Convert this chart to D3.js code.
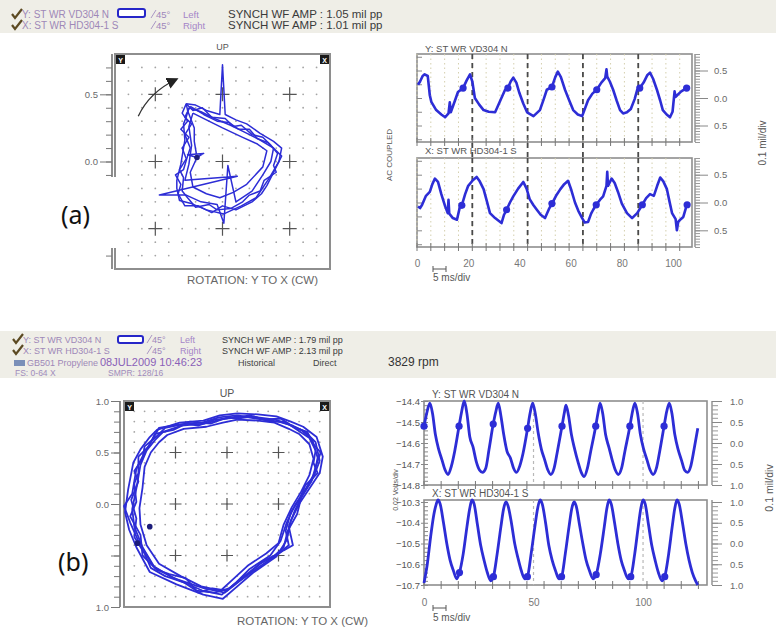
<!DOCTYPE html>
<html>
<head>
<meta charset="utf-8">
<script src="https://cdn.jsdelivr.net/npm/d3@7"></script>
<style>
  body { margin: 0; background: #fff; }
  svg { display: block; font-family: "Liberation Sans", Arial, sans-serif; }
</style>
</head>
<body>
<svg id="chart" width="776" height="633"></svg>
<script>
// ---------------- data ----------------
// (a) synchronous waveforms: [time ms, amplitude mil]
const waveAY = [[0.4,0.24],[1.2,0.30],[2.2,0.40],[3.0,0.43],[4.2,0.40],[5.0,0.05],[5.6,-0.07],[7.5,-0.22],[9.5,-0.30],[11.0,-0.35],[12.3,-0.28],[12.8,-0.08],[13.2,-0.26],[14.8,-0.05],[16.0,0.11],[18.0,0.18],[19.4,0.32],[20.7,0.43],[21.6,0.30],[22.6,0.00],[24.3,-0.12],[26.0,-0.22],[28.0,-0.25],[30.5,-0.26],[32.5,-0.05],[34.4,0.15],[35.5,0.18],[36.6,0.30],[37.6,0.37],[38.8,0.28],[40.0,0.09],[41.5,-0.10],[43.0,-0.26],[45.5,-0.33],[48.0,-0.22],[49.5,-0.02],[50.7,0.15],[52.7,0.20],[54.0,0.38],[55.0,0.48],[56.2,0.38],[57.8,0.15],[59.5,-0.05],[61.0,-0.22],[62.8,-0.30],[64.5,-0.33],[66.8,-0.04],[68.5,0.08],[70.2,0.15],[72.0,0.28],[73.5,0.36],[74.0,0.52],[74.3,0.39],[75.3,0.30],[76.6,0.15],[78.0,-0.05],[79.3,-0.22],[80.5,-0.28],[82.0,-0.26],[83.5,-0.20],[85.0,-0.02],[86.0,0.15],[87.0,0.18],[88.5,0.28],[90.0,0.42],[91.0,0.46],[92.2,0.35],[93.7,0.15],[95.0,-0.05],[96.0,-0.22],[97.5,-0.30],[98.8,-0.35],[99.8,-0.25],[100.6,0.12],[101.0,0.02],[101.6,0.05],[103.2,0.12],[105.3,0.18],[106.6,0.20]];
const dotsAY = [[18.0,0.18],[35.5,0.18],[52.7,0.20],[70.2,0.15],[87.0,0.18],[105.3,0.18]];
const waveAX = [[0.4,-0.07],[1.2,-0.10],[2.0,-0.04],[3.5,0.12],[5.0,0.19],[6.0,0.33],[7.0,0.43],[8.2,0.37],[9.5,0.15],[11.0,-0.07],[12.0,-0.19],[12.3,0.05],[12.6,-0.20],[14.0,-0.28],[15.6,-0.31],[16.8,-0.07],[17.5,-0.05],[18.8,0.15],[20.0,0.30],[21.8,0.40],[23.3,0.46],[24.5,0.38],[26.0,0.24],[27.3,0.02],[28.5,-0.19],[30.5,-0.28],[33.0,-0.37],[34.0,-0.22],[35.0,-0.13],[36.3,0.00],[37.6,0.11],[39.5,0.25],[41.5,0.37],[42.8,0.25],[44.0,0.06],[45.5,-0.05],[46.8,-0.13],[48.3,-0.22],[50.0,-0.28],[51.5,-0.12],[52.7,-0.02],[54.3,0.12],[56.0,0.24],[57.5,0.33],[59.0,0.39],[60.3,0.22],[61.7,0.00],[63.0,-0.15],[64.5,-0.28],[65.5,-0.36],[66.8,-0.35],[68.0,-0.20],[68.8,-0.13],[70.0,-0.04],[71.5,0.05],[72.7,0.11],[74.0,0.30],[74.3,0.55],[74.6,0.30],[76.0,0.43],[77.2,0.35],[78.5,0.19],[80.0,-0.02],[82.0,-0.19],[84.0,-0.28],[86.0,-0.19],[88.0,-0.04],[89.5,0.08],[91.0,0.15],[92.5,0.12],[93.8,0.30],[95.0,0.45],[96.2,0.38],[97.6,0.24],[98.6,0.02],[99.6,-0.19],[101.0,-0.30],[101.5,-0.50],[102.0,-0.35],[103.0,-0.30],[104.0,-0.26],[105.0,-0.10],[105.5,-0.04],[106.6,-0.04]];
const dotsAX = [[17.5,-0.05],[35.0,-0.13],[52.7,-0.02],[70.0,-0.04],[88.0,-0.04],[105.5,-0.04]];
const revMarksA = [21.6, 43.2, 64.8, 86.4];
const timeLabelsA = [0, 20, 40, 60, 80, 100];

// (a) orbit loops: [x mil, y mil]
const orbitA1 = [[-0.27,0.43],[-0.20,0.42],[-0.12,0.38],[-0.02,0.35],[0.00,0.72],[0.02,0.35],[0.10,0.31],[0.18,0.28],[0.28,0.21],[0.38,0.15],[0.44,0.10],[0.42,0.00],[0.35,-0.12],[0.25,-0.27],[0.14,-0.33],[0.01,-0.39],[-0.12,-0.36],[-0.24,-0.31],[-0.32,-0.29],[-0.34,-0.20],[-0.34,-0.14],[-0.31,-0.02],[-0.28,0.16],[-0.29,0.28],[-0.27,0.33],[-0.25,0.40]];
const orbitA2 = [[-0.25,0.40],[-0.16,0.37],[-0.06,0.32],[0.06,0.27],[0.16,0.22],[0.28,0.16],[0.38,0.10],[0.36,0.00],[0.30,-0.10],[0.22,-0.22],[0.10,-0.30],[0.04,-0.03],[0.01,-0.46],[-0.04,-0.32],[-0.16,-0.30],[-0.27,-0.25],[-0.47,-0.25],[0.11,-0.11],[-0.28,-0.14],[-0.25,-0.02],[-0.23,0.12],[-0.25,0.26],[-0.22,0.36]];
const orbitA3 = [[-0.22,0.36],[-0.12,0.31],[0.00,0.25],[0.15,0.18],[0.26,0.13],[0.33,0.08],[0.30,-0.04],[0.18,-0.17],[0.08,-0.23],[-0.02,-0.27],[-0.12,-0.24],[-0.22,-0.19],[-0.24,-0.08],[-0.19,0.03],[-0.26,0.05],[-0.14,0.06],[-0.19,0.03],[-0.21,0.15],[-0.21,0.25],[-0.26,0.38],[-0.27,0.43]];
const orbitA4 = [[-0.27,0.43],[-0.22,0.38],[-0.15,0.40],[-0.08,0.33],[0.02,0.32],[0.08,0.26],[0.14,0.27],[0.22,0.20],[0.30,0.18],[0.36,0.12],[0.41,0.06],[0.38,-0.03],[0.40,-0.08],[0.31,-0.14],[0.28,-0.22],[0.20,-0.25],[0.15,-0.30],[0.06,-0.35],[-0.04,-0.36],[-0.10,-0.32],[-0.20,-0.34],[-0.26,-0.27],[-0.30,-0.22],[-0.29,-0.12],[-0.32,-0.06],[-0.27,0.02],[-0.30,0.10],[-0.25,0.18],[-0.31,0.24],[-0.26,0.30],[-0.30,0.36],[-0.27,0.43]];
const orbitA5 = [[-0.24,0.41],[-0.14,0.35],[-0.04,0.30],[0.05,0.29],[0.12,0.24],[0.20,0.24],[0.26,0.17],[0.34,0.14],[0.40,0.08],[0.44,0.04],[0.39,-0.06],[0.33,-0.18],[0.29,-0.24],[0.22,-0.30],[0.10,-0.36],[0.00,-0.33],[-0.08,-0.38],[-0.18,-0.33],[-0.28,-0.33],[-0.33,-0.24],[-0.31,-0.17],[-0.35,-0.10],[-0.29,-0.06],[-0.26,0.04],[-0.24,0.10],[-0.28,0.20],[-0.23,0.28],[-0.28,0.33],[-0.24,0.41]];
const orbitADots = [[-0.19,0.03]];

// (b) synchronous waveforms: [time ms, volts]
const waveBY = [[0,-14.52],[1.2,-14.46],[2.7,-14.41],[3.9,-14.46],[5.2,-14.56],[6.7,-14.63],[8.2,-14.68],[9.7,-14.73],[11.0,-14.75],[12.5,-14.71],[14.0,-14.64],[16.0,-14.52],[17.2,-14.45],[18.4,-14.40],[19.6,-14.46],[20.9,-14.57],[22.4,-14.62],[23.9,-14.69],[25.4,-14.73],[26.7,-14.74],[28.2,-14.72],[29.7,-14.63],[31.6,-14.51],[32.8,-14.45],[33.9,-14.41],[35.1,-14.47],[36.4,-14.56],[37.9,-14.64],[39.4,-14.67],[40.9,-14.72],[42.2,-14.74],[43.7,-14.71],[45.2,-14.65],[47.3,-14.53],[48.4,-14.46],[49.6,-14.41],[50.8,-14.46],[52.1,-14.55],[53.6,-14.63],[55.1,-14.68],[56.6,-14.73],[57.9,-14.75],[59.4,-14.72],[60.9,-14.64],[63.0,-14.52],[64.0,-14.46],[64.8,-14.42],[66.0,-14.47],[67.3,-14.56],[68.8,-14.63],[70.3,-14.69],[71.8,-14.74],[73.1,-14.76],[74.6,-14.72],[76.1,-14.64],[78.4,-14.52],[79.4,-14.46],[80.4,-14.41],[81.6,-14.46],[82.9,-14.56],[84.4,-14.62],[85.9,-14.68],[87.4,-14.73],[88.7,-14.75],[90.2,-14.72],[91.7,-14.64],[94.0,-14.52],[95.2,-14.45],[96.3,-14.41],[97.5,-14.46],[98.8,-14.56],[100.3,-14.63],[101.8,-14.68],[103.3,-14.73],[104.6,-14.75],[106.1,-14.72],[107.6,-14.64],[109.6,-14.52],[110.8,-14.45],[112.0,-14.41],[113.2,-14.46],[114.5,-14.56],[116.0,-14.63],[117.5,-14.68],[119.0,-14.73],[120.3,-14.74],[121.8,-14.71],[123.3,-14.63],[125.0,-14.53]];
const dotsBY = [[0,-14.52],[16.0,-14.52],[31.6,-14.51],[47.3,-14.53],[63.0,-14.52],[78.4,-14.52],[94.0,-14.52],[109.6,-14.52]];
const waveBX = [[0,-10.69],[1.5,-10.60],[3.0,-10.47],[4.5,-10.36],[5.6,-10.31],[6.4,-10.29],[7.4,-10.31],[8.9,-10.40],[10.4,-10.50],[11.9,-10.58],[13.4,-10.63],[15.0,-10.67],[16.2,-10.64],[17.9,-10.55],[19.6,-10.42],[20.9,-10.33],[21.9,-10.29],[22.9,-10.31],[24.4,-10.41],[25.9,-10.51],[27.4,-10.58],[28.9,-10.64],[30.5,-10.68],[31.7,-10.66],[33.4,-10.55],[35.1,-10.42],[36.4,-10.33],[37.4,-10.30],[38.4,-10.32],[39.9,-10.40],[41.4,-10.50],[42.9,-10.57],[44.4,-10.63],[46.0,-10.67],[47.2,-10.66],[48.9,-10.55],[50.6,-10.42],[51.9,-10.33],[53.0,-10.29],[54.0,-10.31],[55.5,-10.40],[57.0,-10.51],[58.5,-10.58],[60.0,-10.63],[61.6,-10.67],[62.8,-10.66],[64.5,-10.55],[66.2,-10.42],[67.5,-10.33],[68.5,-10.30],[69.5,-10.32],[71.0,-10.41],[72.5,-10.50],[74.0,-10.58],[75.5,-10.63],[77.2,-10.67],[78.6,-10.65],[80.5,-10.55],[82.3,-10.42],[83.5,-10.33],[84.5,-10.29],[85.5,-10.31],[87.0,-10.40],[88.5,-10.50],[90.0,-10.58],[91.5,-10.63],[93.2,-10.67],[94.4,-10.66],[96.2,-10.55],[97.8,-10.42],[99.0,-10.33],[100.0,-10.29],[101.0,-10.31],[102.5,-10.41],[104.0,-10.51],[105.5,-10.58],[107.0,-10.64],[108.7,-10.68],[109.9,-10.66],[111.7,-10.55],[113.3,-10.42],[114.5,-10.33],[115.5,-10.29],[116.5,-10.31],[118.0,-10.40],[119.5,-10.50],[121.0,-10.58],[122.5,-10.64],[124.0,-10.68],[125.0,-10.70]];
const dotsBX = [[16.2,-10.64],[31.7,-10.66],[47.2,-10.66],[62.8,-10.66],[78.6,-10.65],[94.4,-10.66],[109.9,-10.66]];
const revMarksB = [50, 100];
const timeLabelsB = [0, 50, 100];
const voltLabelsBY = [-14.4, -14.5, -14.6, -14.7, -14.8];
const voltLabelsBX = [-10.3, -10.4, -10.5, -10.6, -10.7];

// (b) orbit loops: [x mil, y mil]
const orbitB1 = [[0.10,0.88],[0.30,0.87],[0.48,0.85],[0.62,0.80],[0.74,0.75],[0.87,0.65],[0.93,0.46],[0.90,0.30],[0.80,0.15],[0.70,0.00],[0.62,-0.16],[0.58,-0.35],[0.48,-0.51],[0.25,-0.67],[0.10,-0.80],[-0.04,-0.92],[-0.23,-0.88],[-0.49,-0.78],[-0.75,-0.66],[-0.88,-0.42],[-0.95,-0.25],[-0.99,-0.08],[-0.96,0.14],[-0.91,0.40],[-0.84,0.53],[-0.75,0.65],[-0.68,0.72],[-0.46,0.79],[-0.23,0.81],[-0.07,0.86],[0.10,0.88]];
const orbitB2 = [[0.10,0.85],[0.30,0.84],[0.47,0.82],[0.60,0.77],[0.72,0.72],[0.83,0.62],[0.88,0.45],[0.85,0.30],[0.76,0.14],[0.66,-0.01],[0.58,-0.18],[0.52,-0.36],[0.42,-0.50],[0.22,-0.63],[0.08,-0.77],[-0.05,-0.88],[-0.24,-0.84],[-0.47,-0.74],[-0.70,-0.62],[-0.82,-0.42],[-0.90,-0.22],[-0.92,-0.05],[-0.88,0.15],[-0.84,0.38],[-0.78,0.52],[-0.70,0.62],[-0.62,0.70],[-0.44,0.76],[-0.22,0.78],[-0.06,0.82],[0.10,0.85]];
const orbitB3 = [[0.10,0.82],[0.30,0.81],[0.46,0.79],[0.60,0.73],[0.70,0.68],[0.80,0.58],[0.84,0.44],[0.80,0.28],[0.72,0.12],[0.63,-0.03],[0.55,-0.20],[0.50,-0.38],[0.38,-0.48],[0.20,-0.60],[0.06,-0.73],[-0.06,-0.84],[-0.25,-0.80],[-0.45,-0.70],[-0.66,-0.58],[-0.78,-0.40],[-0.84,-0.20],[-0.85,-0.04],[-0.82,0.16],[-0.80,0.36],[-0.74,0.50],[-0.66,0.60],[-0.58,0.67],[-0.42,0.73],[-0.20,0.75],[-0.04,0.79],[0.10,0.82]];
const orbitB4 = [[0.10,0.86],[0.28,0.83],[0.50,0.80],[0.64,0.76],[0.76,0.70],[0.86,0.60],[0.90,0.42],[0.84,0.26],[0.74,0.10],[0.66,-0.06],[0.60,-0.22],[0.64,-0.40],[0.55,-0.45],[0.30,-0.62],[0.12,-0.75],[-0.02,-0.86],[-0.22,-0.82],[-0.52,-0.72],[-0.72,-0.60],[-0.86,-0.36],[-0.94,-0.18],[-1.00,-0.02],[-0.92,0.10],[-0.88,0.34],[-0.80,0.50],[-0.72,0.63],[-0.66,0.74],[-0.48,0.77],[-0.24,0.79],[-0.08,0.84],[0.10,0.86]];
const orbitB5 = [[0.10,0.84],[0.22,0.86],[0.36,0.82],[0.52,0.83],[0.66,0.74],[0.78,0.70],[0.84,0.58],[0.91,0.50],[0.86,0.36],[0.82,0.22],[0.72,0.06],[0.68,-0.10],[0.59,-0.26],[0.55,-0.42],[0.44,-0.52],[0.32,-0.58],[0.18,-0.70],[0.02,-0.82],[-0.12,-0.86],[-0.30,-0.84],[-0.42,-0.76],[-0.60,-0.70],[-0.74,-0.62],[-0.80,-0.48],[-0.90,-0.32],[-0.88,-0.14],[-0.93,0.04],[-0.86,0.22],[-0.90,0.32],[-0.82,0.44],[-0.80,0.56],[-0.68,0.66],[-0.60,0.74],[-0.40,0.78],[-0.28,0.76],[-0.12,0.82],[0.10,0.84]];
const orbitB6 = [[0.10,0.83],[0.26,0.85],[0.42,0.80],[0.56,0.80],[0.68,0.72],[0.80,0.64],[0.86,0.52],[0.84,0.40],[0.88,0.30],[0.76,0.18],[0.70,0.04],[0.62,-0.08],[0.57,-0.26],[0.60,-0.40],[0.50,-0.48],[0.36,-0.55],[0.22,-0.66],[0.14,-0.72],[0.00,-0.84],[-0.14,-0.82],[-0.28,-0.86],[-0.40,-0.72],[-0.56,-0.68],[-0.68,-0.64],[-0.82,-0.50],[-0.84,-0.30],[-0.94,-0.12],[-0.88,0.02],[-0.90,0.20],[-0.86,0.30],[-0.86,0.46],[-0.76,0.56],[-0.70,0.68],[-0.52,0.72],[-0.36,0.80],[-0.16,0.78],[0.00,0.84],[0.10,0.83]];
const orbitBDots = [[-0.87,-0.38],[-0.75,-0.22]];

const crossVals = [-0.5, 0, 0.5];

// ---------------- drawing ----------------
const svg = d3.select("#chart");
const BLUE = "#2d2dd6";
const absFmt = d => d3.format(".1f")(Math.abs(d));

svg.append("defs").append("marker")
    .attr("id", "ah").attr("viewBox", "0 0 10 10")
    .attr("refX", 8).attr("refY", 5)
    .attr("markerWidth", 9).attr("markerHeight", 9)
    .attr("orient", "auto")
  .append("path").attr("d", "M0,0 L10,5 L0,10 z").attr("fill", "#222");

function txt(g, x, y, s, size, fill, anchor) {
  return g.append("text").attr("x", x).attr("y", y)
    .attr("font-size", size).attr("fill", fill)
    .attr("text-anchor", anchor || "start").text(s);
}

function check(g, x, y) {
  g.append("path").attr("d", `M${x},${y - 4} l3,4 l7,-9`)
    .attr("fill", "none").attr("stroke", "#5c4a22").attr("stroke-width", 2.2);
}

function probeBox(g, x, y, w, h) {
  g.append("rect").attr("x", x).attr("y", y).attr("width", w).attr("height", h)
    .attr("rx", 2).attr("fill", "#fff").attr("stroke", "#2626c8").attr("stroke-width", 2);
}

function slash45(g, x, y, size) {
  g.append("line").attr("x1", x).attr("y1", y).attr("x2", x + 5).attr("y2", y - 8)
    .attr("stroke", "#a28cc0").attr("stroke-width", 0.9);
  txt(g, x + 5, y, "45°", size, "#9e86bb");
}

// ----- header (a)
const hA = svg.append("g");
hA.append("rect").attr("x", 0).attr("y", 0).attr("width", 776).attr("height", 33).attr("fill", "#efeee7");
check(hA, 12, 18); check(hA, 12, 29);
txt(hA, 22, 18, "Y: ST WR VD304 N", 10, "#9e88b8");
txt(hA, 22, 29, "X: ST WR HD304-1 S", 10, "#9e88b8");
probeBox(hA, 118, 9, 27, 8);
slash45(hA, 151, 18, 9.5); slash45(hA, 151, 29, 9.5);
txt(hA, 183, 18, "Left", 9.5, "#a585c8");
txt(hA, 183, 29, "Right", 9.5, "#a585c8");
txt(hA, 228, 18, "SYNCH WF AMP : 1.05 mil pp", 11.5, "#3a3a3a");
txt(hA, 228, 29, "SYNCH WF AMP : 1.01 mil pp", 11.5, "#3a3a3a");

// ----- header (b)
const hB = svg.append("g");
hB.append("rect").attr("x", 0).attr("y", 331).attr("width", 776).attr("height", 47).attr("fill", "#efeee7");
check(hB, 13, 343); check(hB, 13, 354);
txt(hB, 23, 343, "Y: ST WR VD304 N", 9, "#9e88b8");
txt(hB, 23, 354, "X: ST WR HD304-1 S", 9, "#9e88b8");
probeBox(hB, 118, 336, 25, 7);
slash45(hB, 147, 343, 9); slash45(hB, 147, 354, 9);
txt(hB, 180, 343, "Left", 9, "#a585c8");
txt(hB, 180, 354, "Right", 9, "#a585c8");
txt(hB, 222, 343, "SYNCH WF AMP : 1.79 mil pp", 9, "#3a3a3a");
txt(hB, 222, 354, "SYNCH WF AMP : 2.13 mil pp", 9, "#3a3a3a");
hB.append("rect").attr("x", 14).attr("y", 360).attr("width", 11).attr("height", 6).attr("fill", "#7a8fb8");
txt(hB, 27, 366, "GB501 Propylene", 9, "#9e88b8");
txt(hB, 100, 366, "08JUL2009 10:46:23", 11, "#8a60b8");
txt(hB, 238, 366, "Historical", 9, "#444");
txt(hB, 313, 366, "Direct", 9, "#444");
txt(hB, 388, 366, "3829 rpm", 12, "#333");
txt(hB, 15, 376, "FS: 0-64 X", 8.5, "#a08cbc");
txt(hB, 108, 376, "SMPR: 128/16", 8.5, "#a08cbc");

// ----- orbit plot
function orbit(o) {
  const g = svg.append("g");
  const x = d3.scaleLinear().domain(o.dom).range([o.x0, o.x1]);
  const y = d3.scaleLinear().domain(o.dom).range([o.y1, o.y0]);

  g.append("rect").attr("x", o.x0).attr("y", o.y0)
    .attr("width", o.x1 - o.x0).attr("height", o.y1 - o.y0)
    .attr("fill", "#fff").attr("stroke", "#8e8e8e").attr("stroke-width", 2);

  // dot grid
  const grid = d3.range(-o.gridN, o.gridN + 1).map(i => i / 10);
  const pts = [];
  grid.forEach(a => grid.forEach(b => pts.push([a, b])));
  g.selectAll("circle.grid").data(pts).join("circle")
    .attr("cx", d => x(d[0])).attr("cy", d => y(d[1]))
    .attr("r", 0.9).attr("fill", "#a4a4a4");

  // crosses
  const cr = [];
  crossVals.forEach(a => crossVals.forEach(b => cr.push([a, b])));
  g.selectAll("path.cross").data(cr).join("path")
    .attr("d", d => `M${x(d[0]) - o.cs},${y(d[1])}h${2 * o.cs}M${x(d[0])},${y(d[1]) - o.cs}v${2 * o.cs}`)
    .attr("stroke", "#555").attr("stroke-width", 1.2);

  // left axis: minor ticks, long ticks, labels
  const minor = g.append("g").attr("transform", `translate(${o.axisX},0)`)
    .call(d3.axisLeft(y).tickValues(o.minorTicks).tickSize(6).tickSizeOuter(0).tickFormat(""));
  minor.select(".domain").attr("d", `M0,${o.y0}V${o.y1}`).attr("stroke", "#8e8e8e").attr("stroke-width", 2);
  minor.selectAll(".tick line").attr("stroke", "#777");
  const major = g.append("g").attr("transform", `translate(${o.axisX},0)`)
    .call(d3.axisLeft(y).tickValues(o.majorTicks).tickSize(o.majorLen).tickFormat(""));
  major.select(".domain").remove();
  major.selectAll(".tick line").attr("stroke", "#777");
  const lab = g.append("g").attr("transform", `translate(${o.axisX - o.majorLen - 2},0)`)
    .call(d3.axisLeft(y).tickValues(o.labels).tickSize(0).tickPadding(0).tickFormat(absFmt));
  lab.select(".domain").remove();
  lab.selectAll(".tick text").attr("font-size", o.labelSize).attr("fill", "#6a6a6a")
    .attr("font-family", "Liberation Sans, Arial, sans-serif");

  // orbit trace
  const line = d3.line().x(d => x(d[0])).y(d => y(d[1]));
  o.loops.forEach(l => {
    g.append("path").attr("d", line(l)).attr("fill", "none")
      .attr("stroke", BLUE).attr("stroke-width", o.lw).attr("stroke-linejoin", "round");
  });
  g.selectAll("circle.kp").data(o.dots).join("circle")
    .attr("cx", d => x(d[0])).attr("cy", d => y(d[1])).attr("r", 2.8).attr("fill", "#1c1c7a");

  // corner tags
  [["Y", o.x0 + 1], ["X", o.x1 - 10]].forEach(([s, tx]) => {
    g.append("rect").attr("x", tx).attr("y", o.y0 + 1).attr("width", 9).attr("height", 9).attr("fill", "#1a1a1a");
    txt(g, tx + 4.5, o.y0 + 8.5, s, 7, "#fff", "middle").attr("font-weight", "bold");
  });

  txt(g, (o.x0 + o.x1) / 2, o.y0 - 4, "UP", o.upSize, "#555", "middle");
  txt(g, o.rotX, o.rotY, "ROTATION: Y TO X (CW)", 11.5, "#666");
  return { g, x, y };
}

const oa = orbit({
  x0: 115, x1: 330, y0: 54, y1: 269, dom: [-0.8, 0.8], gridN: 7, cs: 7,
  axisX: 112, minorTicks: d3.range(-7, 8).map(i => i / 10),
  majorTicks: [-0.5, 0, 0.5], labels: [0, 0.5],
  majorLen: 12, labelSize: 9.5,
  loops: [orbitA1, orbitA4, orbitA2, orbitA5, orbitA3], dots: orbitADots,
  lw: 1.5, upSize: 9, rotX: 187, rotY: 284
});
// rotation arrow
const arrowPath = d3.path();
arrowPath.moveTo(oa.x(-0.627), oa.y(0.336));
arrowPath.quadraticCurveTo(oa.x(-0.545), oa.y(0.515), oa.x(-0.343), oa.y(0.612));
oa.g.append("path").attr("d", arrowPath.toString()).attr("fill", "none")
  .attr("stroke", "#333").attr("stroke-width", 1.3).attr("marker-end", "url(#ah)");

orbit({
  x0: 124, x1: 330, y0: 401, y1: 607, dom: [-1, 1], gridN: 9, cs: 6,
  axisX: 120, minorTicks: d3.range(-10, 11).map(i => i / 10),
  majorTicks: [-1, -0.5, 0, 0.5, 1], labels: [-1, 0, 0.5, 1],
  majorLen: 9, labelSize: 9.5,
  loops: [orbitB1, orbitB5, orbitB2, orbitB6, orbitB3, orbitB4], dots: orbitBDots,
  lw: 1.8, upSize: 10.5, rotX: 237, rotY: 625
});

// panel labels; (a) sits on a white patch over the plot edge
svg.append("rect").attr("x", 0).attr("y", 177).attr("width", 117).attr("height", 71).attr("fill", "#fff");
svg.append("text").attr("x", 61).attr("y", 224).attr("font-family", "Noto Sans, Open Sans, sans-serif")
  .attr("font-size", 25).attr("fill", "#111").text("(a)");
svg.append("text").attr("x", 58).attr("y", 571).attr("font-family", "Noto Sans, Open Sans, sans-serif")
  .attr("font-size", 25).attr("fill", "#111").text("(b)");

// ----- waveform plot
function wave(w) {
  const g = svg.append("g");
  const x = d3.scaleLinear().domain(w.tDom).range([w.x0, w.x1]);
  const y = d3.scaleLinear().domain(w.vDom).range(w.vRange);

  g.append("rect").attr("x", w.x0).attr("y", w.y0).attr("width", w.x1 - w.x0).attr("height", w.y1 - w.y0)
    .attr("fill", "#fff").attr("stroke", "#8e8e8e").attr("stroke-width", 1.6);

  (w.vGrids || []).forEach(vg => {
    g.selectAll(null).data(vg.values).join("line")
      .attr("x1", d => x(d)).attr("x2", d => x(d)).attr("y1", w.y0).attr("y2", w.y1)
      .attr("stroke", vg.color).attr("stroke-width", vg.width).attr("stroke-dasharray", vg.dash);
  });

  // bottom ticks
  g.selectAll(null).data(w.bTicks).join("line")
    .attr("x1", d => x(d)).attr("x2", d => x(d)).attr("y1", w.y1 - 4).attr("y2", w.y1 + 4)
    .attr("stroke", "#777").attr("stroke-width", 1);

  // left axis
  if (w.leftMinor) {
    const lm = g.append("g").attr("transform", `translate(${w.x0},0)`)
      .call(d3.axisLeft(y).tickValues(w.leftMinor).tickSize(-w.leftMinorLen).tickFormat(""));
    lm.select(".domain").remove();
    lm.selectAll(".tick line").attr("stroke", "#888");
  }
  if (w.leftLabels) {
    const ll = g.append("g").attr("transform", `translate(${w.x0},0)`)
      .call(d3.axisLeft(y).tickValues(w.leftLabels).tickSize(3).tickPadding(1).tickFormat(d3.format(".1f")));
    ll.select(".domain").remove();
    ll.selectAll(".tick line").attr("stroke", "#888");
    ll.selectAll(".tick text").attr("font-size", 9.5).attr("fill", "#555")
      .attr("font-family", "Liberation Sans, Arial, sans-serif");
  }

  // right axis (mil)
  const yr = d3.scaleLinear().domain(w.rDom).range(w.vRange);
  const rm = g.append("g").attr("transform", `translate(${w.rX},0)`)
    .call(d3.axisRight(yr).tickValues(w.rMinor).tickSize(w.rMinorLen).tickSizeOuter(0).tickFormat(""));
  rm.select(".domain").attr("d", `M0,${w.y0}V${w.y1}`).attr("stroke", "#8e8e8e").attr("stroke-width", 1.4);
  rm.selectAll(".tick line").attr("stroke", "#999");
  const rl = g.append("g").attr("transform", `translate(${w.rX},0)`)
    .call(d3.axisRight(yr).tickValues(w.rLabels).tickSize(w.rMajorLen).tickPadding(w.rPad).tickFormat(absFmt));
  rl.select(".domain").remove();
  rl.selectAll(".tick line").attr("stroke", "#888");
  rl.selectAll(".tick text").attr("font-size", 9.5).attr("fill", "#6a6a6a")
    .attr("font-family", "Liberation Sans, Arial, sans-serif");

  // trace
  const line = d3.line().x(d => x(d[0])).y(d => y(d[1])).curve(w.curve);
  g.append("path").attr("d", line(w.data)).attr("fill", "none")
    .attr("stroke", BLUE).attr("stroke-width", w.lw).attr("stroke-linejoin", "round");
  g.selectAll(null).data(w.dots).join("circle")
    .attr("cx", d => x(d[0])).attr("cy", d => y(d[1])).attr("r", 3.6).attr("fill", BLUE);

  txt(g, w.x0 + 8, w.titleY, w.title, w.titleSize, "#555");

  if (w.timeLabels) {
    const xl = g.append("g").attr("transform", `translate(0,${w.y1})`)
      .call(d3.axisBottom(x).tickValues(w.timeLabels).tickSize(0).tickPadding(w.tPad));
    xl.select(".domain").remove();
    xl.selectAll(".tick text").attr("font-size", 10).attr("fill", "#777")
      .attr("font-family", "Liberation Sans, Arial, sans-serif");
  }
  return { g, x, y };
}

// (a) waveforms
const tTicksA = d3.range(0, 108, 5.4);
const commonA = {
  x0: 417, x1: 692, tDom: [0, 107.4], vDom: [-0.8, 0.8], rDom: [-0.8, 0.8],
  rX: 695, rMinor: d3.range(-16, 17).map(i => i / 20), rMinorLen: 5,
  rLabels: [-0.5, 0, 0.5], rMajorLen: 13, rPad: 6,
  leftMinor: d3.range(-3, 4).map(i => i / 4), leftMinorLen: 5,
  bTicks: tTicksA, curve: d3.curveLinear, lw: 2.6, titleSize: 9.5,
  vGrids: [
    { values: tTicksA, color: "#d4cfae", width: 1, dash: "1.5,3" },
    { values: revMarksA, color: "#4a4a4a", width: 1.8, dash: "5,4" }
  ]
};
const wa = wave(Object.assign({}, commonA, {
  y0: 54, y1: 142, vRange: [142, 54], data: waveAY, dots: dotsAY,
  title: "Y: ST WR VD304 N", titleY: 52
}));
wave(Object.assign({}, commonA, {
  y0: 158, y1: 247, vRange: [247, 158], data: waveAX, dots: dotsAX,
  title: "X: ST WR HD304-1 S", titleY: 154, timeLabels: timeLabelsA, tPad: 13
}));
// revolution marks continue through the gap between the two plots
svg.selectAll(null).data(revMarksA).join("line")
  .attr("x1", d => wa.x(d)).attr("x2", d => wa.x(d))
  .attr("y1", 143).attr("y2", 157)
  .attr("stroke", "#4a4a4a").attr("stroke-width", 1.8).attr("stroke-dasharray", "5,4");

// (b) waveforms
const tTicksB = d3.range(0, 129, 7.83);
const commonB = {
  x0: 424, x1: 707, tDom: [0, 129.2], rDom: [-1, 1],
  rX: 712, rMinor: d3.range(-10, 11).map(i => i / 10), rMinorLen: 6,
  rLabels: [-1, -0.5, 0, 0.5, 1], rMajorLen: 10, rPad: 8,
  leftMinorLen: 4, bTicks: tTicksB, curve: d3.curveMonotoneX, lw: 2.8, titleSize: 10,
  vGrids: [{ values: revMarksB, color: "#b8b8b8", width: 1.2, dash: "3,3" }]
};
wave(Object.assign({}, commonB, {
  y0: 401, y1: 485, vDom: [-14.8, -14.4], vRange: [485, 401], data: waveBY, dots: dotsBY,
  leftMinor: d3.range(-740, -719).map(i => i / 50), leftLabels: voltLabelsBY,
  title: "Y: ST WR VD304 N", titleY: 398
}));
wave(Object.assign({}, commonB, {
  y0: 500, y1: 585, vDom: [-10.7, -10.3], vRange: [585, 502], data: waveBX, dots: dotsBX,
  leftMinor: d3.range(-535, -514).map(i => i / 50), leftLabels: voltLabelsBX,
  title: "X: ST WR HD304-1 S", titleY: 497, timeLabels: timeLabelsB, tPad: 14
}));

// scale bars and side captions
function msBar(x, y, ty) {
  svg.append("path").attr("d", `M${x},${y - 3}v6M${x},${y}h13M${x + 13},${y - 3}v6`)
    .attr("stroke", "#555").attr("fill", "none");
  txt(svg, x, ty, "5 ms/div", 10, "#555");
}
msBar(433, 269, 281);
msBar(433, 608, 621);

function vText(x, y, s, size, fill) {
  svg.append("text").attr("transform", `translate(${x},${y}) rotate(-90)`)
    .attr("text-anchor", "middle").attr("font-size", size).attr("fill", fill).text(s);
}
vText(392, 155, "AC COUPLED", 8, "#555");
vText(766, 143, "0.1 mil/div", 10, "#555");
vText(398, 490, "0.02 Volts/div", 7, "#555");
vText(773, 488, "0.1 mil/div", 10.5, "#555");
</script>
</body>
</html>
